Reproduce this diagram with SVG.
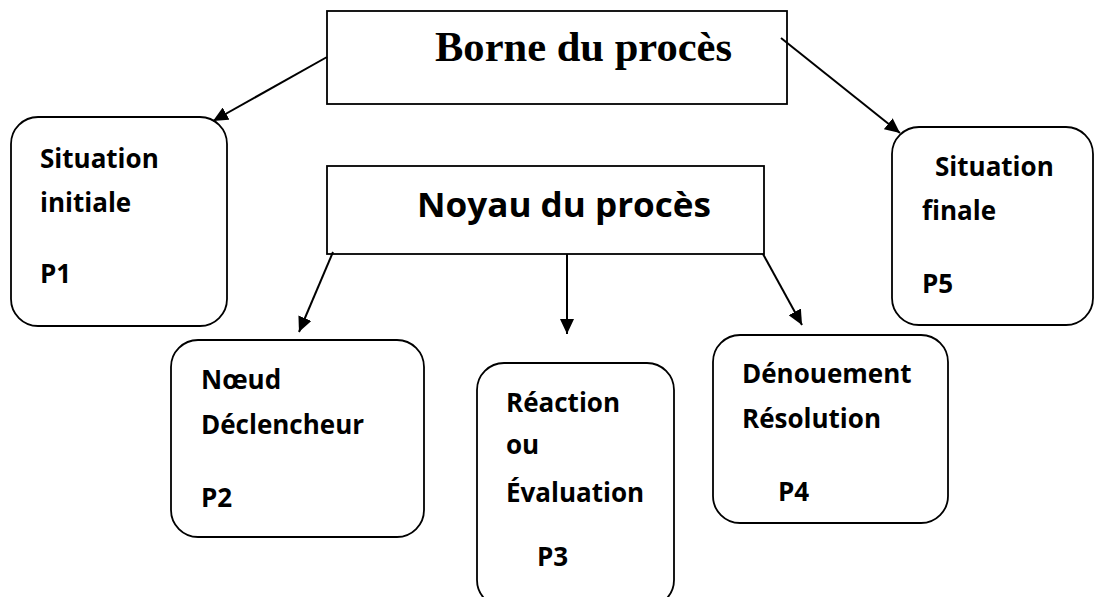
<svg xmlns="http://www.w3.org/2000/svg" width="1096" height="597" viewBox="0 0 1096 597">
<style>
.box{fill:#fff;stroke:#000;stroke-width:1.8}
.t{font-family:"Open Sans","Liberation Sans",sans-serif;font-weight:700;font-size:26px;fill:#000}
.ts{font-family:"Liberation Serif","Times New Roman",serif;font-weight:700;font-size:42px;fill:#000}
.big{font-family:"Open Sans","Liberation Sans",sans-serif;font-weight:700;font-size:34px;fill:#000}
.c{stroke:#000;stroke-width:2;fill:none;marker-end:url(#ah)}
</style>
<defs>
<marker id="ah" markerUnits="userSpaceOnUse" markerWidth="16" markerHeight="14" refX="15" refY="7" orient="auto">
<path d="M0,0 L15,7 L0,14 z" fill="#000"/>
</marker>
</defs>
<rect width="1096" height="597" fill="#fff"/>
<g id="borne">
<rect class="box" x="327" y="11" width="460" height="93"/>
<text class="ts" x="435" y="61" textLength="297" lengthAdjust="spacingAndGlyphs">Borne du procès</text>
</g>
<g id="noyau">
<rect class="box" x="327" y="166" width="437" height="88"/>
<text class="big" x="417" y="217" textLength="294" lengthAdjust="spacingAndGlyphs">Noyau du procès</text>
</g>
<g id="p1">
<rect class="box" x="11" y="117" width="216" height="209" rx="27"/>
<text class="t" x="40" y="168">Situation</text>
<text class="t" x="40" y="212">initiale</text>
<text class="t" x="40" y="283">P1</text>
</g>
<g id="p5">
<rect class="box" x="892" y="127" width="201" height="198" rx="27"/>
<text class="t" x="935" y="176">Situation</text>
<text class="t" x="922" y="220">finale</text>
<text class="t" x="922" y="293">P5</text>
</g>
<g id="p2">
<rect class="box" x="171" y="340" width="253" height="197" rx="27"/>
<text class="t" x="201" y="389">Nœud</text>
<text class="t" x="201" y="434">Déclencheur</text>
<text class="t" x="201" y="507">P2</text>
</g>
<g id="p3">
<rect class="box" x="477" y="363" width="197" height="244" rx="27"/>
<text class="t" x="506" y="412">Réaction</text>
<text class="t" x="506" y="454">ou</text>
<text class="t" x="506" y="502">Évaluation</text>
<text class="t" x="537" y="566">P3</text>
</g>
<g id="p4">
<rect class="box" x="713" y="335" width="235" height="188" rx="27"/>
<text class="t" x="742" y="383">Dénouement</text>
<text class="t" x="742" y="428">Résolution</text>
<text class="t" x="778" y="501">P4</text>
</g>
<g id="connectors">
<line class="c" x1="327" y1="57" x2="213" y2="121"/>
<line class="c" x1="781" y1="38" x2="900" y2="133"/>
<line class="c" x1="333" y1="252" x2="299" y2="332"/>
<line class="c" x1="567" y1="254" x2="567" y2="334"/>
<line class="c" x1="763" y1="254" x2="802" y2="325"/>
</g>
</svg>
